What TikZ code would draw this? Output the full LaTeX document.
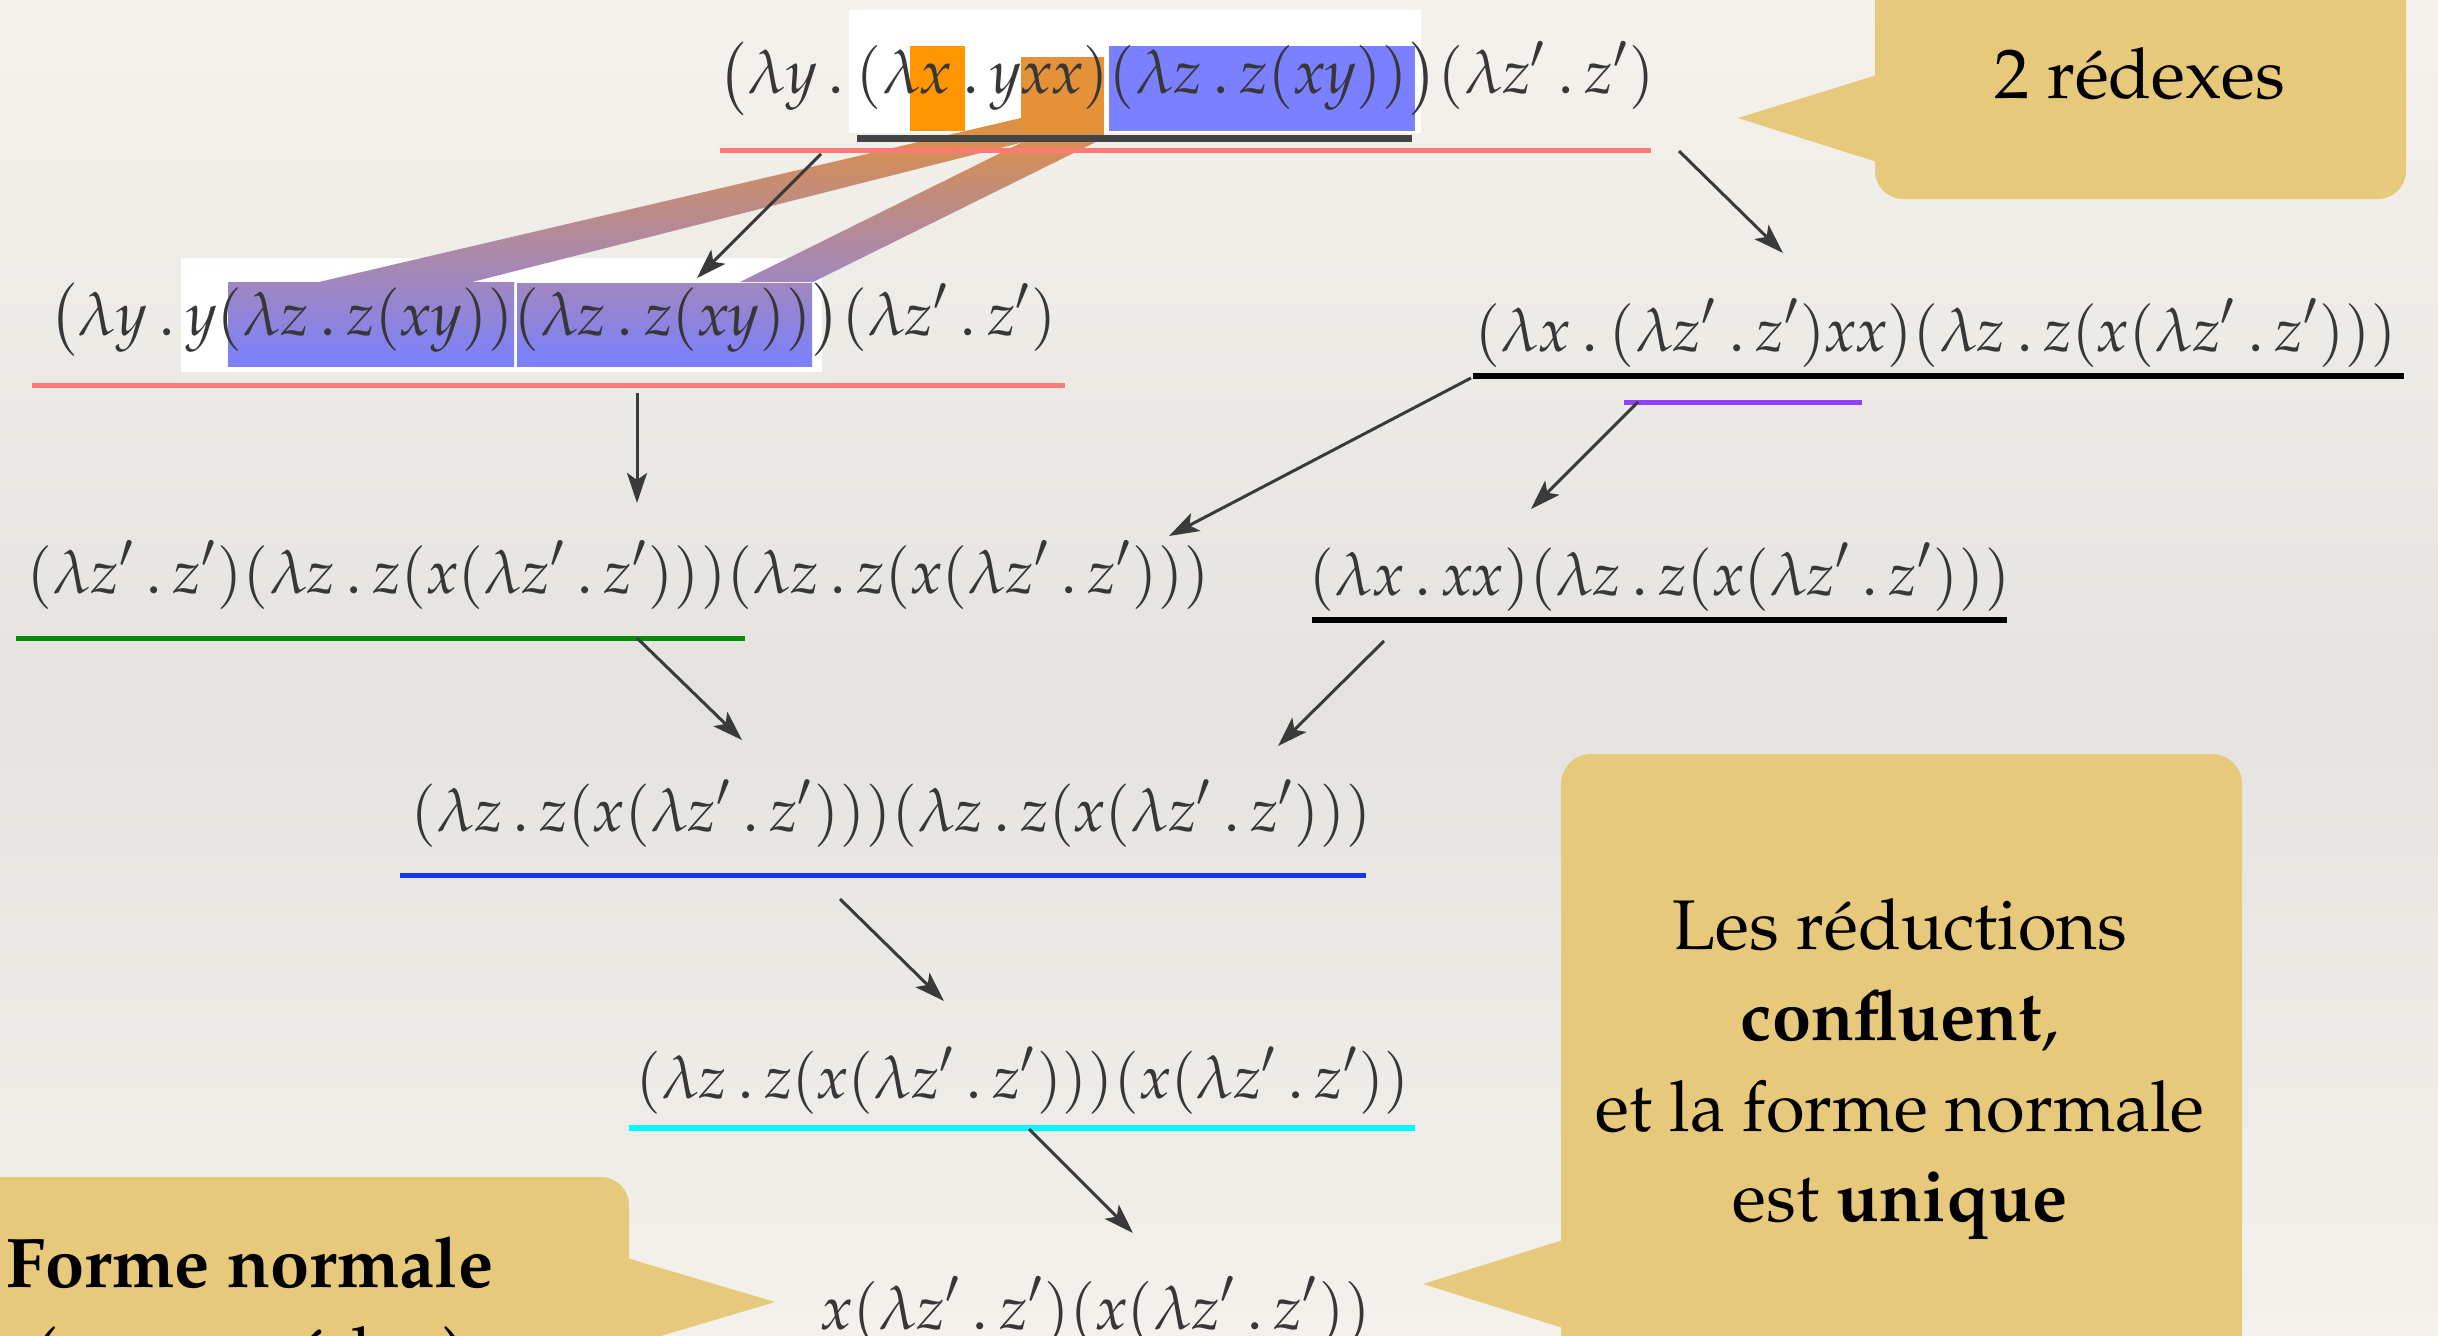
\documentclass[tikz,border=0pt]{standalone}
\usepackage[T1]{fontenc}
\usepackage{mathpazo}
\usepackage{graphicx}
\usetikzlibrary{arrows.meta}
\definecolor{bgtop}{RGB}{245,242,237}
\definecolor{bgmid}{RGB}{228,227,223}
\definecolor{bgbot}{RGB}{244,241,236}
\definecolor{callout}{RGB}{230,201,122}
\definecolor{mathgray}{RGB}{55,55,55}
\definecolor{arrgray}{RGB}{58,58,58}
\definecolor{pinkline}{RGB}{255,122,118}
\definecolor{darkline}{RGB}{68,68,68}
\definecolor{purpleline}{RGB}{147,64,255}
\definecolor{greenline}{RGB}{8,140,8}
\definecolor{blueline}{RGB}{16,56,245}
\definecolor{cyanline}{RGB}{0,250,255}
\definecolor{orangeA}{RGB}{255,149,0}
\definecolor{orangeB}{RGB}{228,145,55}
\definecolor{bandlow}{RGB}{160,135,192}
\definecolor{blueA}{RGB}{122,128,255}
\newcommand\fm[2]{\resizebox{#1}{!}{$\displaystyle #2$}}
\newcommand\lamdot{\mathbin{.}}
\newcommand\V[1]{\mathit{#1}}
\newcommand\zp{\V{z}'}
\newcommand\lzz{(\lambda\zp\lamdot\zp)}
\newcommand\lzx{(\lambda\V{z}\lamdot\V{z}(\V{x}\lzz))}
\tikzset{
  mathnode/.style={inner sep=0pt, text=mathgray, anchor=west, font=\fontsize{20}{24}\selectfont},
  ul/.style={line width=0.05cm},
  arr/.style={draw=arrgray, line width=0.03cm, -{Stealth[length=0.3cm,width=0.2cm,inset=0.07cm]}},
  ctext/.style={inner sep=0pt, anchor=base, font=\fontsize{20}{25.6}\selectfont, text=black},
  callbox/.style={fill=callout}
}
\begin{document}
\begin{tikzpicture}[x=0.01cm,y=-0.01cm]
\useasboundingbox (0,0) rectangle (2438,1336);
\clip (0,0) rectangle (2438,1336);
% background
\shade[top color=bgtop,bottom color=bgmid] (0,0) rectangle (2438,702);
\shade[top color=bgmid,bottom color=bgbot] (0,700) rectangle (2438,1336);
% callouts
\fill[callbox, rounded corners=0.28cm] (1875,-60) rectangle (2406,199);
\fill[callbox] (1877,75) -- (1738,118) -- (1877,162) -- cycle;
\fill[callbox, rounded corners=0.3cm] (1561,754) rectangle (2242,1450);
\fill[callbox] (1563,1240) -- (1423,1284) -- (1563,1328) -- cycle;
\fill[callbox, rounded corners=0.28cm] (-100,1177) rectangle (629,1450);
\fill[callbox] (627,1258) -- (775,1302) -- (627,1346) -- cycle;
% white boxes
\fill[white] (849,10) rectangle (1421,133);
\fill[white] (181,258) rectangle (822,372);
% bands
\shade[top color=orangeB, bottom color=bandlow] (1021,110) -- (1067,110) -- (1067,131) -- (472,282) -- (319,282) -- (1021,118) -- cycle;
\shade[top color=orangeB, bottom color=bandlow] (1045,110) -- (1104,110) -- (1104,138) -- (813,282) -- (740,282) -- (1045,131) -- cycle;
% highlight boxes
\fill[orangeA] (910,46) rectangle (965,131);
\fill[orangeB] (1021,57) rectangle (1104,131);
\fill[blueA] (1109,46) rectangle (1415,131);
\shade[top color=bandlow, bottom color=blueA] (228,282) rectangle (514,366);
\shade[top color=bandlow, bottom color=blueA] (517,283) rectangle (812,366);
% terms
\node[mathnode] (r1) at (717,78.5) {\fm{9.37cm}{\bigl(\lambda\V{y}\lamdot(\lambda\V{x}\lamdot\V{yxx})(\lambda\V{z}\lamdot\V{z}(\V{xy}))\bigr)\lzz}};
\node[mathnode] (r2l) at (48,320) {\fm{10.08cm}{\bigl(\lambda\V{y}\lamdot\V{y}(\lambda\V{z}\lamdot\V{z}(\V{xy}))(\lambda\V{z}\lamdot\V{z}(\V{xy}))\bigr)\lzz}};
\node[mathnode] (r2r) at (1474,333) {\fm{9.22cm}{(\lambda\V{x}\lamdot\lzz\V{xx})\lzx}};
\node[mathnode] (r3l) at (26,575) {\fm{11.83cm}{\lzz\lzx\lzx}};
\node[mathnode] (r3r) at (1308,577) {\fm{7.02cm}{(\lambda\V{x}\lamdot\V{xx})\lzx}};
\node[mathnode] (r4) at (410,814) {\fm{9.61cm}{\lzx\lzx}};
\node[mathnode] (r5) at (635,1081) {\fm{7.74cm}{\lzx(\V{x}\lzz)}};
\node[mathnode] (r6) at (821,1311) {\fm{5.49cm}{\V{x}\lzz(\V{x}\lzz)}};
% underlines
\draw[ul,darkline,line width=0.07cm] (857,138) -- (1412,138);
\draw[ul,pinkline] (720,150) -- (1651,150);
\draw[ul,pinkline] (32,385) -- (1065,385);
\draw[ul,black,line width=0.065cm] (1473,376) -- (2404,376);
\draw[ul,purpleline] (1624,402) -- (1862,402);
\draw[ul,greenline] (16,638) -- (745,638);
\draw[ul,black,line width=0.065cm] (1312,620) -- (2007,620);
\draw[ul,blueline] (400,875) -- (1366,875);
\draw[ul,cyanline,line width=0.06cm] (629,1128) -- (1415,1128);
% callout texts
\node[ctext] (c1) at (2140,98) {2 rédexes};
\node[ctext] (c2a) at (1900,949) {Les réductions};
\node[ctext] (c2b) at (1900,1040) {\textbf{confluent},};
\node[ctext] (c2c) at (1900,1131) {et la forme normale};
\node[ctext] (c2d) at (1900,1221) {est \textbf{unique}};
\node[ctext] (c3a) at (250,1287) {\textbf{Forme normale}};
\node[ctext] (c3b) at (250,1377) {(aucun rédex)};
% arrows
\coordinate (a1s) at (821,154); \coordinate (a1e) at (697,278);
\coordinate (a2s) at (1679,151); \coordinate (a2e) at (1783,253);
\coordinate (a3s) at (637,393); \coordinate (a3e) at (637,503);
\coordinate (a4s) at (1471,378); \coordinate (a4e) at (1169,536);
\coordinate (a5s) at (1638,402); \coordinate (a5e) at (1531,509);
\coordinate (a6s) at (637,638); \coordinate (a6e) at (742,740);
\coordinate (a7s) at (1384,641); \coordinate (a7e) at (1278,746);
\coordinate (a8s) at (840,899); \coordinate (a8e) at (944,1001);
\coordinate (a9s) at (1029,1129); \coordinate (a9e) at (1133,1233);
\draw[arr] (a1s) -- (a1e);
\draw[arr] (a2s) -- (a2e);
\draw[arr] (a3s) -- (a3e);
\draw[arr] (a4s) -- (a4e);
\draw[arr] (a5s) -- (a5e);
\draw[arr] (a6s) -- (a6e);
\draw[arr] (a7s) -- (a7e);
\draw[arr] (a8s) -- (a8e);
\draw[arr] (a9s) -- (a9e);
\end{tikzpicture}
\end{document}
